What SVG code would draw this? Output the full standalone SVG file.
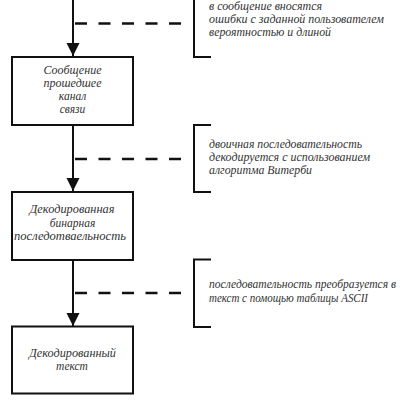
<svg xmlns="http://www.w3.org/2000/svg" width="406" height="402" viewBox="0 0 406 402">
<defs>
<style>
.box{fill:#fff;stroke:#111;stroke-width:2}
.flow{stroke:#111;stroke-width:2;fill:none}
.dash{stroke:#111;stroke-width:2.6;stroke-dasharray:12 11.5;fill:none}
.br{stroke:#111;stroke-width:2;fill:none}
.t{font-family:"Liberation Serif","DejaVu Serif",serif;font-style:italic;font-size:11.5px;fill:#333;text-anchor:middle}
.n{font-family:"Liberation Serif","DejaVu Serif",serif;font-style:italic;font-size:12px;fill:#333}
</style>
<marker id="ah" markerWidth="13" markerHeight="14" refX="13" refY="6.5" orient="auto" markerUnits="userSpaceOnUse">
<path d="M0,0 L13,6.5 L0,13 Z" fill="#111"/>
</marker>
</defs>
<rect width="406" height="402" fill="#fff"/>
<g id="connectors">
<line class="flow" x1="73" y1="0" x2="73" y2="56" marker-end="url(#ah)"/>
<line class="flow" x1="73" y1="125" x2="73" y2="191" marker-end="url(#ah)"/>
<line class="flow" x1="73" y1="260" x2="73" y2="326" marker-end="url(#ah)"/>
<line class="dash" x1="75" y1="23.5" x2="183" y2="23.5"/>
<line class="dash" x1="75" y1="159" x2="183" y2="159"/>
<line class="dash" x1="75" y1="293" x2="183" y2="293"/>
</g>
<g id="node1">
<rect class="box" x="12" y="57" width="121" height="68"/>
<text class="t" x="72.5" y="74" textLength="58" lengthAdjust="spacingAndGlyphs">Сообщение</text>
<text class="t" x="72.5" y="87" textLength="58" lengthAdjust="spacingAndGlyphs">прошедшее</text>
<text class="t" x="72.5" y="100">канал</text>
<text class="t" x="72.5" y="113">связи</text>
</g>
<g id="node2">
<rect class="box" x="12" y="192" width="121" height="68"/>
<text class="t" x="72" y="213" textLength="85" lengthAdjust="spacingAndGlyphs">Декодированная</text>
<text class="t" x="72.5" y="226.5">бинарная</text>
<text class="t" x="70" y="240" textLength="112" lengthAdjust="spacingAndGlyphs">последотваельность</text>
</g>
<g id="node3">
<rect class="box" x="12" y="326.5" width="121" height="67"/>
<text class="t" x="72.5" y="356.5" textLength="87" lengthAdjust="spacingAndGlyphs">Декодированный</text>
<text class="t" x="72" y="370">текст</text>
</g>
<g id="note1">
<polyline class="br" points="194,0 194,57 211,57"/>
<text class="n" x="209" y="10" textLength="113" lengthAdjust="spacingAndGlyphs">в сообщение вносятся</text>
<text class="n" x="209" y="23" textLength="175" lengthAdjust="spacingAndGlyphs">ошибки с заданной пользователем</text>
<text class="n" x="209" y="36" textLength="122" lengthAdjust="spacingAndGlyphs">вероятностью и длиной</text>
</g>
<g id="note2">
<polyline class="br" points="211,125 194,125 194,192 211,192"/>
<text class="n" x="209" y="148" textLength="153" lengthAdjust="spacingAndGlyphs">двоичная последовательность</text>
<text class="n" x="209" y="161" textLength="161" lengthAdjust="spacingAndGlyphs">декодируется с использованием</text>
<text class="n" x="209" y="174" textLength="103" lengthAdjust="spacingAndGlyphs">алгоритма Витерби</text>
</g>
<g id="note3">
<polyline class="br" points="211,259.5 194,259.5 194,327 211,327"/>
<text class="n" x="209" y="288" textLength="187" lengthAdjust="spacingAndGlyphs">последовательность преобразуется в</text>
<text class="n" x="209" y="301.5" textLength="159" lengthAdjust="spacingAndGlyphs">текст с помощью таблицы ASCII</text>
</g>
</svg>
